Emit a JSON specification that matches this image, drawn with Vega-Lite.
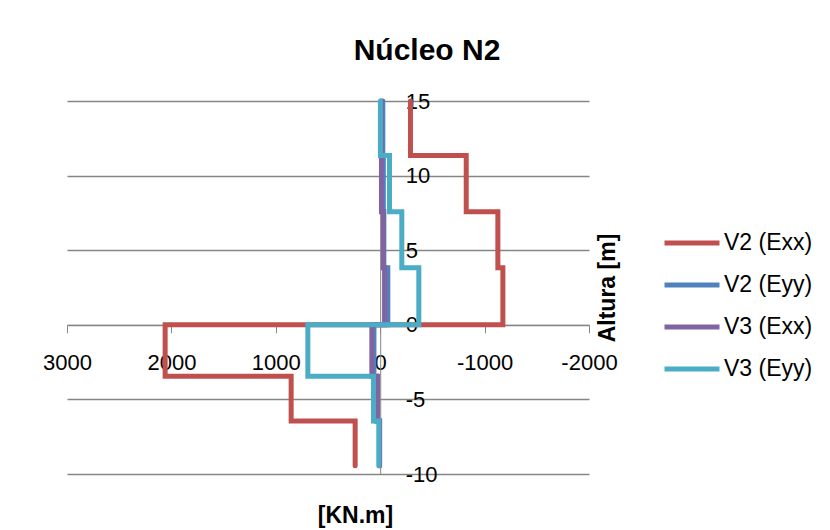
{
  "$schema": "https://vega.github.io/schema/vega-lite/v6.json",
  "width": 522,
  "height": 373,
  "autosize": {"type": "none"},
  "padding": {"left": 67, "top": 101, "right": 241, "bottom": 56},
  "background": "white",
  "config": {"view": {"stroke": null}, "font": "Liberation Sans"},
  "title": {"text": "Núcleo N2", "fontSize": 30, "fontWeight": "bold", "font": "Liberation Sans", "color": "black", "anchor": "middle", "dx": 99, "offset": 24},
  "data": {"values": [
    {"s": "V2 (Exx)", "i": 1, "x": -290, "y": 15},
    {"s": "V2 (Exx)", "i": 2, "x": -290, "y": 11.35},
    {"s": "V2 (Exx)", "i": 3, "x": -824, "y": 11.35},
    {"s": "V2 (Exx)", "i": 4, "x": -824, "y": 7.57},
    {"s": "V2 (Exx)", "i": 5, "x": -1127, "y": 7.57},
    {"s": "V2 (Exx)", "i": 6, "x": -1127, "y": 3.82},
    {"s": "V2 (Exx)", "i": 7, "x": -1175, "y": 3.82},
    {"s": "V2 (Exx)", "i": 8, "x": -1175, "y": 0},
    {"s": "V2 (Exx)", "i": 9, "x": 2060, "y": 0},
    {"s": "V2 (Exx)", "i": 10, "x": 2060, "y": -3.44},
    {"s": "V2 (Exx)", "i": 11, "x": 853, "y": -3.44},
    {"s": "V2 (Exx)", "i": 12, "x": 853, "y": -6.45},
    {"s": "V2 (Exx)", "i": 13, "x": 240, "y": -6.45},
    {"s": "V2 (Exx)", "i": 14, "x": 240, "y": -9.44},
    {"s": "V2 (Eyy)", "i": 1, "x": -25, "y": 15},
    {"s": "V2 (Eyy)", "i": 2, "x": -25, "y": 11.35},
    {"s": "V2 (Eyy)", "i": 3, "x": -30, "y": 11.35},
    {"s": "V2 (Eyy)", "i": 4, "x": -30, "y": 7.57},
    {"s": "V2 (Eyy)", "i": 5, "x": -35, "y": 7.57},
    {"s": "V2 (Eyy)", "i": 6, "x": -35, "y": 3.82},
    {"s": "V2 (Eyy)", "i": 7, "x": -73, "y": 3.82},
    {"s": "V2 (Eyy)", "i": 8, "x": -73, "y": 0},
    {"s": "V2 (Eyy)", "i": 9, "x": 60, "y": 0},
    {"s": "V2 (Eyy)", "i": 10, "x": 60, "y": -3.44},
    {"s": "V2 (Eyy)", "i": 11, "x": 35, "y": -3.44},
    {"s": "V2 (Eyy)", "i": 12, "x": 35, "y": -6.45},
    {"s": "V2 (Eyy)", "i": 13, "x": 8, "y": -6.45},
    {"s": "V2 (Eyy)", "i": 14, "x": 8, "y": -9.44},
    {"s": "V3 (Exx)", "i": 1, "x": -10, "y": 15},
    {"s": "V3 (Exx)", "i": 2, "x": -10, "y": 11.35},
    {"s": "V3 (Exx)", "i": 3, "x": -12, "y": 11.35},
    {"s": "V3 (Exx)", "i": 4, "x": -12, "y": 7.57},
    {"s": "V3 (Exx)", "i": 5, "x": -30, "y": 7.57},
    {"s": "V3 (Exx)", "i": 6, "x": -30, "y": 3.82},
    {"s": "V3 (Exx)", "i": 7, "x": -42, "y": 3.82},
    {"s": "V3 (Exx)", "i": 8, "x": -42, "y": 0},
    {"s": "V3 (Exx)", "i": 9, "x": 80, "y": 0},
    {"s": "V3 (Exx)", "i": 10, "x": 80, "y": -3.44},
    {"s": "V3 (Exx)", "i": 11, "x": 26, "y": -3.44},
    {"s": "V3 (Exx)", "i": 12, "x": 26, "y": -6.45},
    {"s": "V3 (Exx)", "i": 13, "x": 5, "y": -6.45},
    {"s": "V3 (Exx)", "i": 14, "x": 5, "y": -9.44},
    {"s": "V3 (Eyy)", "i": 1, "x": -2, "y": 15},
    {"s": "V3 (Eyy)", "i": 2, "x": -2, "y": 11.35},
    {"s": "V3 (Eyy)", "i": 3, "x": -89, "y": 11.35},
    {"s": "V3 (Eyy)", "i": 4, "x": -89, "y": 7.57},
    {"s": "V3 (Eyy)", "i": 5, "x": -207, "y": 7.57},
    {"s": "V3 (Eyy)", "i": 6, "x": -207, "y": 3.82},
    {"s": "V3 (Eyy)", "i": 7, "x": -370, "y": 3.82},
    {"s": "V3 (Eyy)", "i": 8, "x": -370, "y": 0},
    {"s": "V3 (Eyy)", "i": 9, "x": 693, "y": 0},
    {"s": "V3 (Eyy)", "i": 10, "x": 693, "y": -3.44},
    {"s": "V3 (Eyy)", "i": 11, "x": 64, "y": -3.44},
    {"s": "V3 (Eyy)", "i": 12, "x": 64, "y": -6.45},
    {"s": "V3 (Eyy)", "i": 13, "x": 13, "y": -6.45},
    {"s": "V3 (Eyy)", "i": 14, "x": 13, "y": -9.44}
  ]},
  "mark": {"type": "line", "strokeWidth": 5, "strokeCap": "round", "strokeJoin": "miter"},
  "encoding": {
    "x": {
      "field": "x", "type": "quantitative",
      "scale": {"domain": [-2000, 3000], "reverse": true, "nice": false, "zero": false},
      "axis": {
        "title": "[KN.m]", "values": [3000, 2000, 1000, 0, -1000, -2000], "labelExpr": "'' + datum.value",
        "offset": -149.2, "grid": false,
        "domainColor": "#868686", "tickColor": "#868686", "tickSize": 8,
        "labelFontSize": 22, "labelColor": "black", "labelPadding": 20, "labelFont": "Liberation Sans",
        "labelFlush": false, "labelOverlap": false,
        "titleFontSize": 23, "titleFontWeight": "bold", "titleColor": "black", "titleFont": "Liberation Sans",
        "titleX": 288, "titleY": 191, "titleBaseline": "middle", "titleAlign": "center"
      }
    },
    "y": {
      "field": "y", "type": "quantitative",
      "scale": {"domain": [-10, 15], "nice": false, "zero": false},
      "axis": {
        "orient": "right", "offset": -208.8, "title": "Altura [m]",
        "values": [-10, -5, 0, 5, 10, 15], "labelExpr": "'' + datum.value",
        "grid": true, "gridColor": "#868686", "gridWidth": 1.3,
        "domainColor": "#868686", "tickColor": "#868686", "tickSize": 8,
        "labelFontSize": 22, "labelColor": "black", "labelPadding": 17, "labelFont": "Liberation Sans",
        "labelAlign": "left", "labelBaseline": "middle", "labelFlush": false, "labelOverlap": false,
        "titleAngle": 270, "titleX": 227, "titleY": 186.5, "titleAlign": "center", "titleBaseline": "middle",
        "titleFontSize": 23, "titleFontWeight": "bold", "titleColor": "black", "titleFont": "Liberation Sans"
      }
    },
    "color": {
      "field": "s", "type": "nominal",
      "scale": {"domain": ["V2 (Exx)", "V2 (Eyy)", "V3 (Exx)", "V3 (Eyy)"], "range": ["#C0504D", "#4F81BD", "#8064A2", "#4BACC6"]},
      "legend": {
        "orient": "none", "legendX": 595, "legendY": 112, "title": null,
        "symbolType": "stroke", "symbolSize": 3025, "symbolStrokeWidth": 5,
        "labelFontSize": 23, "labelOffset": 2, "rowPadding": -12.8,
        "labelColor": "black", "labelFont": "Liberation Sans", "padding": 0
      }
    },
    "order": {"field": "i", "type": "quantitative"}
  }
}
